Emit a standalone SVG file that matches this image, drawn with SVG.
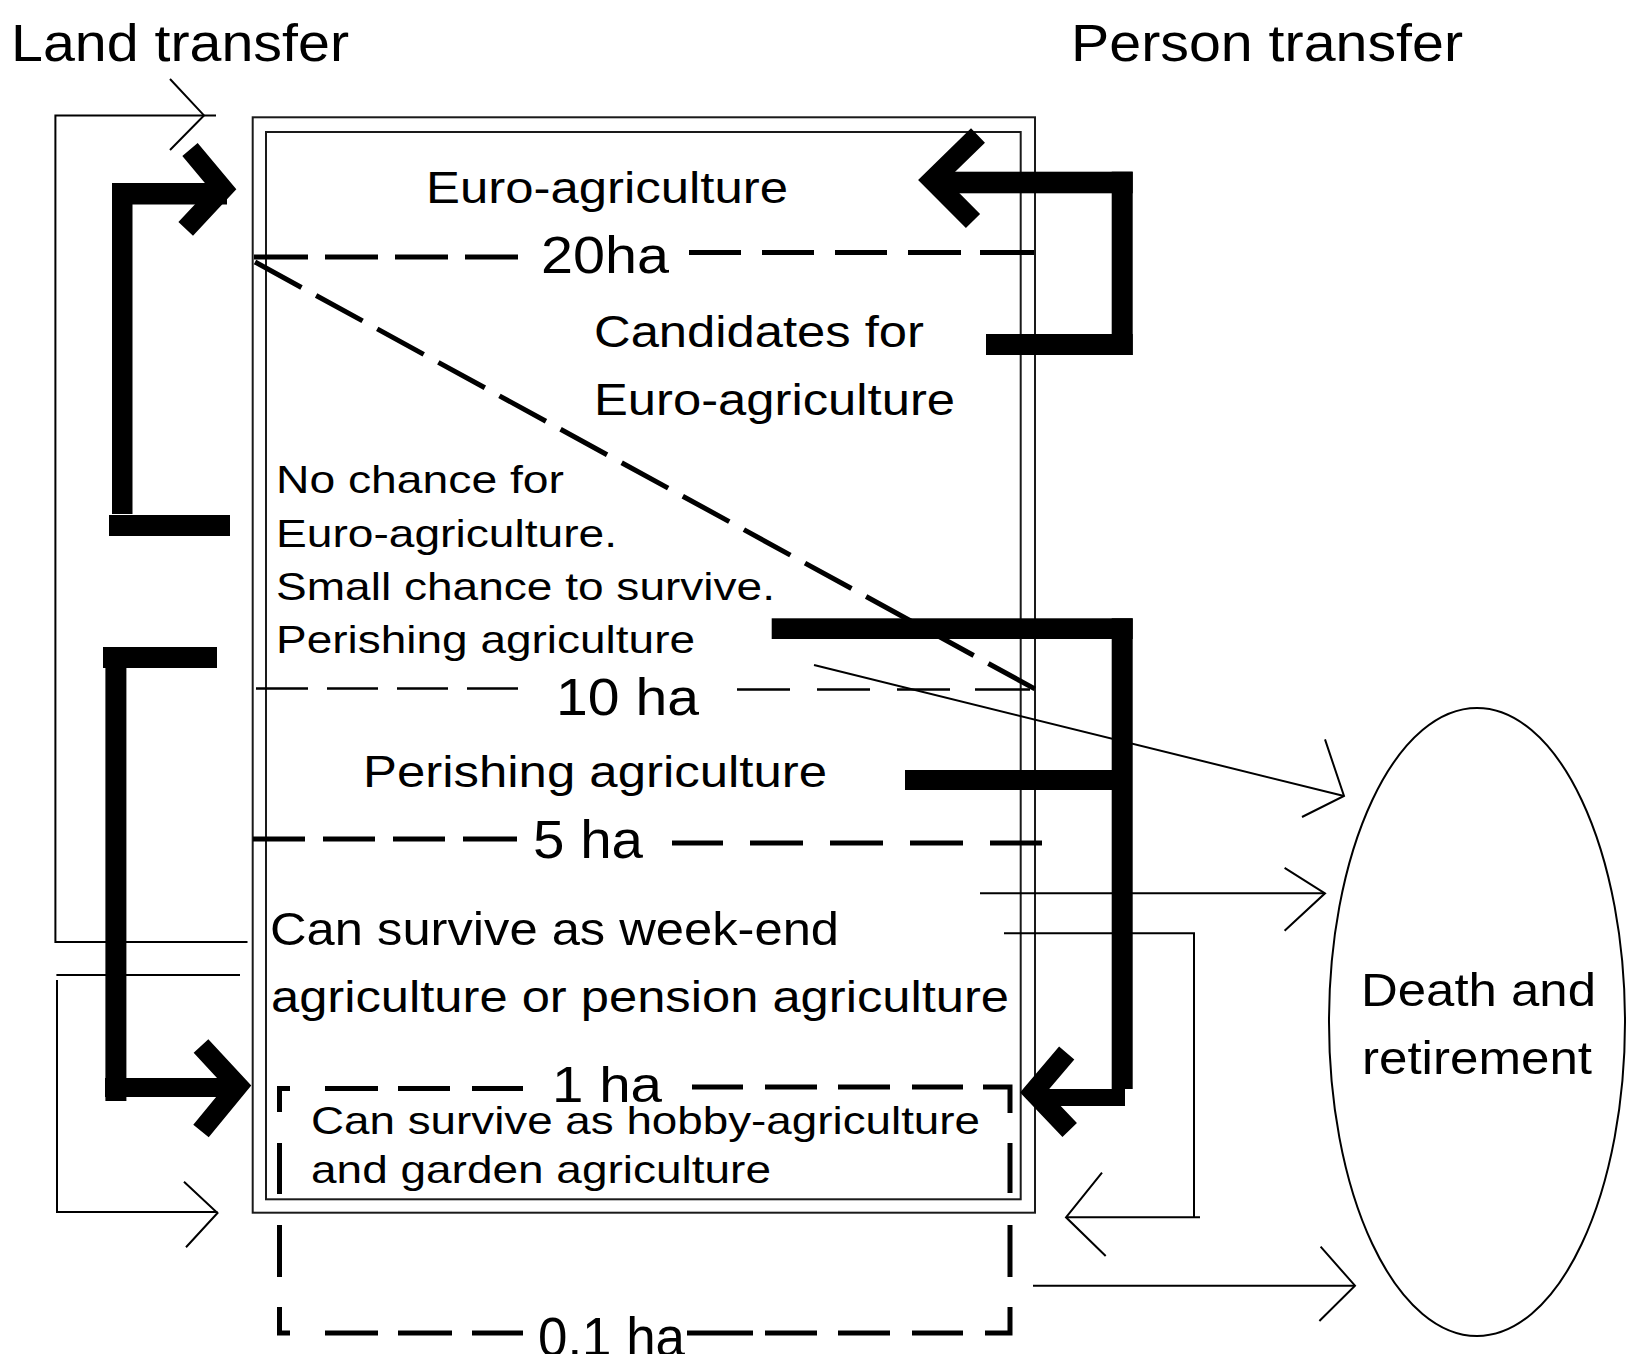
<svg xmlns="http://www.w3.org/2000/svg" width="1626" height="1354" viewBox="0 0 1626 1354">
<style>
.t{font-family:"Liberation Sans",Arial,Helvetica,sans-serif;fill:#000}
.thin{stroke:#000;stroke-width:2;fill:none}
.box{stroke:#1a1a1a;stroke-width:2;fill:none}
.d5{stroke:#000;stroke-width:5;fill:none}
.d2{stroke:#000;stroke-width:2.5;fill:none}
.bar{fill:#000}
.chev{stroke:#000;stroke-width:20;fill:none;stroke-linejoin:miter;stroke-miterlimit:10}
</style>
<rect width="1626" height="1354" fill="#fff"/>

<g id="label-land-transfer">
<text class="t" x="11" y="61" font-size="51" textLength="338" lengthAdjust="spacingAndGlyphs">Land transfer</text>
</g>
<g id="label-person-transfer">
<text class="t" x="1071" y="61" font-size="51" textLength="392" lengthAdjust="spacingAndGlyphs">Person transfer</text>
</g>

<g id="node-farm-sizes">
<rect class="box" x="252.7" y="117.3" width="782.3" height="1095.4"/>
<rect class="box" x="266" y="132" width="754.7" height="1067.3"/>
<text class="t" x="426" y="203" font-size="44" textLength="362" lengthAdjust="spacingAndGlyphs">Euro-agriculture</text>
<g id="threshold-20ha">
<path class="d5" d="M254 257H308M325 257H378M395 257H448M465 257H518M689 252.5H741M762 252.5H814M835 252.5H887M908 252.5H961M980 252.5H1034"/>
<text class="t" x="541" y="273" font-size="52" textLength="128" lengthAdjust="spacingAndGlyphs">20ha</text>
</g>
<line class="d5" x1="255" y1="262" x2="1035" y2="689" stroke-dasharray="53 16.67"/>
<text class="t" x="594" y="347" font-size="45" textLength="330" lengthAdjust="spacingAndGlyphs">Candidates for</text>
<text class="t" x="594" y="415" font-size="44" textLength="361" lengthAdjust="spacingAndGlyphs">Euro-agriculture</text>
<text class="t" x="276" y="493" font-size="39" textLength="288" lengthAdjust="spacingAndGlyphs">No chance for</text>
<text class="t" x="276" y="547" font-size="39" textLength="341" lengthAdjust="spacingAndGlyphs">Euro-agriculture.</text>
<text class="t" x="276" y="600" font-size="39" textLength="499" lengthAdjust="spacingAndGlyphs">Small chance to survive.</text>
<text class="t" x="276" y="653" font-size="39" textLength="419" lengthAdjust="spacingAndGlyphs">Perishing agriculture</text>
<g id="threshold-10ha">
<path class="d2" d="M256 688.5H308M327 688.5H378M397 688.5H448M467 688.5H518M737 689.5H790M817 689.5H870M897 689.5H950M975 689.5H1030"/>
<text class="t" x="556" y="715" font-size="52" textLength="143" lengthAdjust="spacingAndGlyphs">10 ha</text>
</g>
<text class="t" x="363" y="787" font-size="45" textLength="464" lengthAdjust="spacingAndGlyphs">Perishing agriculture</text>
<g id="threshold-5ha">
<path class="d5" d="M253 839H305M323 839H375M393 839H445M463 839H517M672 843H723M750 843H803M830 843H883M910 843H963M990 843H1042"/>
<text class="t" x="533" y="858" font-size="53" textLength="110" lengthAdjust="spacingAndGlyphs">5 ha</text>
</g>
<text class="t" x="270" y="945" font-size="46" textLength="569" lengthAdjust="spacingAndGlyphs">Can survive as week-end</text>
<text class="t" x="271" y="1012" font-size="45" textLength="738" lengthAdjust="spacingAndGlyphs">agriculture or pension agriculture</text>
<g id="threshold-1ha-box">
<path class="d5" d="M279.5 1112V1088.5H290M325 1088.5H378M398 1088.5H450M472 1088.5H523M692 1087H743M765 1087H817M838 1087H890M912 1087H963M983 1087H1010V1113M1010 1143V1193M1010 1225V1277M1010 1307V1333H985M963 1333H912M890 1333H838M817 1333H765M753 1333H687M523 1333H472M452 1333H398M378 1333H325M290 1333H279.5V1307M279.5 1277V1225M279.5 1194V1143"/>
<text class="t" x="552" y="1102" font-size="50" textLength="110" lengthAdjust="spacingAndGlyphs">1 ha</text>
<text class="t" x="311" y="1134" font-size="39" textLength="669" lengthAdjust="spacingAndGlyphs">Can survive as hobby-agriculture</text>
<text class="t" x="311" y="1183" font-size="39" textLength="460" lengthAdjust="spacingAndGlyphs">and garden agriculture</text>
<text class="t" x="538" y="1356" font-size="56" textLength="147" lengthAdjust="spacingAndGlyphs">0.1 ha</text>
</g>
</g>

<g id="node-death-retirement">
<ellipse class="thin" cx="1477" cy="1022" rx="148" ry="314"/>
<text class="t" x="1361" y="1006" font-size="47" textLength="235" lengthAdjust="spacingAndGlyphs">Death and</text>
<text class="t" x="1362" y="1074" font-size="47" textLength="230" lengthAdjust="spacingAndGlyphs">retirement</text>
</g>

<g id="connectors">
<path class="thin" d="M247.5 942H55.4V115.4H216"/>
<path class="thin" d="M170 79L204 115.4L170 150"/>
<path class="thin" d="M240 975H56.4"/>
<path class="thin" d="M57 980V1212H217.5"/>
<path class="thin" d="M184 1181.7L217.5 1213L186 1247.3"/>
<path class="thin" d="M814 665L1344 796"/>
<path class="thin" d="M1325 739.4L1344 796L1302 817"/>
<path class="thin" d="M980 893.3H1325"/>
<path class="thin" d="M1284.6 867.8L1325 893.3L1284.6 930.8"/>
<path class="thin" d="M1004 933.3H1194V1217.3M1200 1217.3H1066"/>
<path class="thin" d="M1102 1172.7L1066 1217.3L1105.7 1256"/>
<path class="thin" d="M1033 1285.7H1355"/>
<path class="thin" d="M1320.6 1246.6L1355 1285.7L1319.4 1321"/>
<rect class="bar" x="112" y="183" width="20.5" height="331"/>
<rect class="bar" x="112" y="183" width="115" height="21.5"/>
<rect class="bar" x="109" y="515" width="121" height="21"/>
<polyline class="chev" points="190,149.5 223,189 185.7,228.9"/>
<rect class="bar" x="940" y="171.7" width="192.7" height="21.6"/>
<rect class="bar" x="1111.7" y="171.7" width="21" height="183.3"/>
<rect class="bar" x="986" y="334" width="146.7" height="21"/>
<polyline class="chev" points="978,135.5 932.3,180 973,221"/>
<rect class="bar" x="771.7" y="618.3" width="361" height="20.7"/>
<rect class="bar" x="1111.7" y="618.3" width="21" height="470.7"/>
<rect class="bar" x="905" y="770" width="207" height="20"/>
<rect class="bar" x="1042" y="1089" width="83" height="17"/>
<polyline class="chev" points="1066.7,1053 1033.5,1092 1069.7,1130"/>
<rect class="bar" x="103" y="647" width="114" height="21"/>
<rect class="bar" x="105.4" y="647" width="21" height="454"/>
<rect class="bar" x="105" y="1078" width="125" height="19"/>
<polyline class="chev" points="201,1046 238,1086 201,1131"/>
</g>
</svg>
